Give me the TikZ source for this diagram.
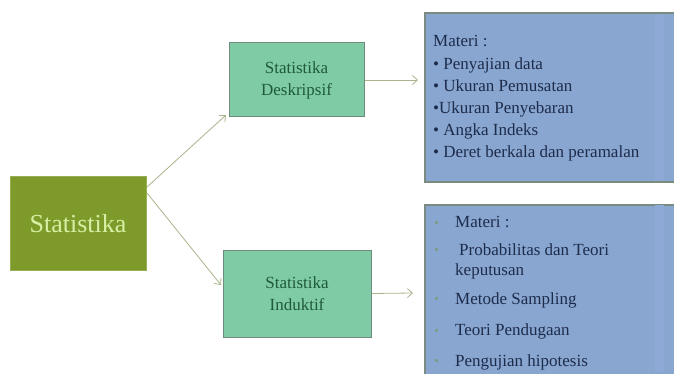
\documentclass[tikz,border=0pt]{standalone}
\usepackage{fontspec}
\setmainfont{Liberation Serif}
\usetikzlibrary{arrows.meta}
\definecolor{olivebox}{HTML}{7D9A2B}
\definecolor{olivetext}{HTML}{D6EFA3}
\definecolor{mintbox}{HTML}{7ECBA5}
\definecolor{mintline}{HTML}{6E8C7C}
\definecolor{minttext}{HTML}{1F5A3A}
\definecolor{bluebox}{HTML}{88A6CF}
\definecolor{bluestrip}{HTML}{8EA9D6}
\definecolor{blueline}{HTML}{7A8C80}
\definecolor{bluetext}{HTML}{1E2C4C}
\definecolor{linkcol}{HTML}{AAB48C}
\definecolor{dotcol}{HTML}{7E9C8E}
\begin{document}
\begin{tikzpicture}[x=1pt,y=-1pt,
  rootbox/.style={draw=olivebox!80!white,line width=1pt,fill=olivebox,text=olivetext,
    minimum width=136pt,minimum height=93pt,font=\fontsize{26}{28}\selectfont},
  branchbox/.style={draw=mintline,line width=1pt,fill=mintbox,text=minttext,align=center,
    font=\fontsize{17}{22}\selectfont},
  listbox/.style={draw=blueline,line width=1.2pt,fill=bluebox},
  listtext/.style={text=bluetext,anchor=west,inner sep=0pt,font=\fontsize{17}{21}\selectfont},
  link/.style={draw=linkcol,line width=0.8pt,-{Straight Barb[length=5pt,width=9pt]}},
  sqdot/.style={fill=dotcol,minimum size=3pt,inner sep=0pt}]
\useasboundingbox (0,0) rectangle (674,374);
\fill[white] (0,0) rectangle (674,374);

% main node and its two branches
\node[rootbox] (root) at (78,223.5) {Statistika};
\node[branchbox,minimum width=135pt,minimum height=74pt] (desk) at (296.5,80) {Statistika\\Deskripsif};
\node[branchbox,minimum width=148pt,minimum height=87pt] (ind) at (297,293.5) {Statistika\\Induktif};

% list boxes
\node[listbox,minimum width=252pt,minimum height=169pt] (lista) at (551,97.5) {};
\fill[bluestrip] (655,15) rectangle (664,181);
\node[listbox,minimum width=252pt,minimum height=180pt] (listb) at (551,295) {};
\fill[bluestrip] (655,205) rectangle (664,372);

% connectors
\coordinate (rootne) at (147,187);
\coordinate (rootse) at (147,193);
\draw[link] (rootne) -- (226,115);
\draw[link] (rootse) -- (221,285);
\coordinate (deskend) at (418,80);
\coordinate (indend) at (413,293);
\draw[link] (desk.east) -- (deskend);
\draw[link] (ind.east) -- (indend);

% descriptive topics
\node[listtext,align=left,font=\fontsize{17}{22.2}\selectfont] (ta) at (433,98.5)
  {Materi :\\
   \textbullet\ Penyajian data\\
   \textbullet\ Ukuran Pemusatan\\
   \textbullet Ukuran Penyebaran\\
   \textbullet\ Angka Indeks\\
   \textbullet\ Deret berkala dan peramalan};

% inferential topics
\node[sqdot] (d1) at (436,222) {};
\node[sqdot] (d2) at (436,249) {};
\node[sqdot] (d3) at (436,298) {};
\node[sqdot] (d4) at (436,330) {};
\node[sqdot] (d5) at (436,360) {};
\node[listtext] (b1) at (455,222) {Materi :};
\node[listtext] (b2) at (459,250) {Probabilitas dan Teori};
\node[listtext] (b2b) at (455,271) {keputusan};
\node[listtext] (b3) at (455,300) {Metode Sampling};
\node[listtext] (b4) at (455,331) {Teori Pendugaan};
\node[listtext] (b5) at (455,362) {Pengujian hipotesis};
\end{tikzpicture}
\end{document}
